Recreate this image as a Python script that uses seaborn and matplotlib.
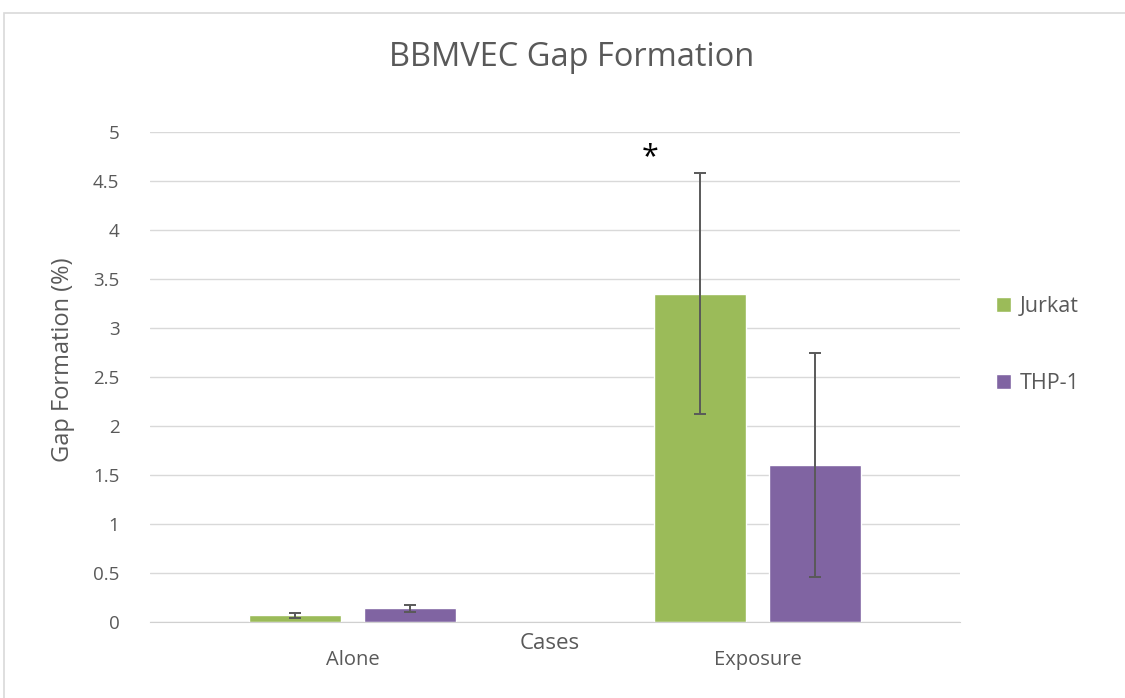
import pandas as pd
import matplotlib
matplotlib.use('Agg')
import matplotlib.pyplot as plt
import seaborn as sns
from matplotlib.patches import Rectangle

# Chart values
cases = ['Alone', 'Exposure']
cell_lines = ['Jurkat', 'THP-1']
jurkat_mean = [0.068, 3.35]
jurkat_err = [0.025, 1.23]
thp1_mean = [0.14, 1.60]
thp1_err = [0.038, 1.14]
colors = ['#9BBB59', '#8064A2']

data = pd.DataFrame({
    'Cases': cases * 2,
    'Cell': ['Jurkat'] * 2 + ['THP-1'] * 2,
    'Gap': jurkat_mean + thp1_mean,
    'Err': jurkat_err + thp1_err,
})

sns.set_style('white')
plt.rcParams['font.family'] = ['Open Sans', 'DejaVu Sans']
grey = '#595959'

fig = plt.figure(figsize=(11.25, 6.98), dpi=100)
ax = fig.add_axes([150 / 1125, 76 / 698, 810 / 1125, 490 / 698])

sns.barplot(data=data, x='Cases', y='Gap', hue='Cell', order=cases,
            hue_order=cell_lines, palette=colors, width=0.568, gap=0.2,
            errorbar=None, saturation=1, ax=ax)

# error bars at the centre of each bar
for cont, cell in zip(ax.containers, cell_lines):
    sub = data[data['Cell'] == cell].set_index('Cases').loc[cases]
    xs = [p.get_x() + p.get_width() / 2 for p in cont.patches]
    ax.errorbar(xs, sub['Gap'], yerr=sub['Err'], fmt='none', ecolor=grey,
                elinewidth=1.4, capsize=4.3, capthick=1.4, zorder=5)

ax.set_xlim(-0.5, 1.5)
ax.set_ylim(0, 5)
ax.set_yticks([0, 0.5, 1, 1.5, 2, 2.5, 3, 3.5, 4, 4.5, 5])
ax.set_yticklabels(['0', '0.5', '1', '1.5', '2', '2.5', '3', '3.5', '4', '4.5', '5'])
ax.yaxis.grid(True, color='#d9d9d9', linewidth=1)
ax.set_axisbelow(True)
for s in ['top', 'right', 'left']:
    ax.spines[s].set_visible(False)
ax.spines['bottom'].set_color('#d0d0d0')
ax.tick_params(axis='x', length=0, labelsize=14.5, colors=grey, pad=20)
ax.tick_params(axis='y', length=0, labelsize=13.5, colors=grey, pad=22)

ax.set_ylabel('Gap Formation (%)', fontsize=17, color=grey)
ax.yaxis.set_label_coords(-0.092, 0.535)
ax.set_xlabel('Cases', fontsize=16, color=grey)
ax.xaxis.set_label_coords(0.494, -0.022)

fig.suptitle('BBMVEC Gap Formation', x=572 / 1125, y=1 - 58 / 698, va='center',
             fontsize=23.5, color=grey)

# significance mark
ax.text(0.735, 4.74, '*', fontsize=22, color='black', ha='center', va='center')

ax.legend(loc='center left', bbox_to_anchor=(1.02, 0.565), frameon=False,
          fontsize=15.5, labelcolor=grey, labelspacing=2.6, handlelength=0.7,
          handleheight=0.7, handletextpad=0.4)

# light outer chart frame
fig.patches.append(Rectangle((4 / 1125, -0.01), 1.1, 1 - 13 / 698 + 0.01,
                             transform=fig.transFigure, fill=False,
                             edgecolor='#d9d9d9', linewidth=1.2))

plt.savefig('out.png', dpi=100)
